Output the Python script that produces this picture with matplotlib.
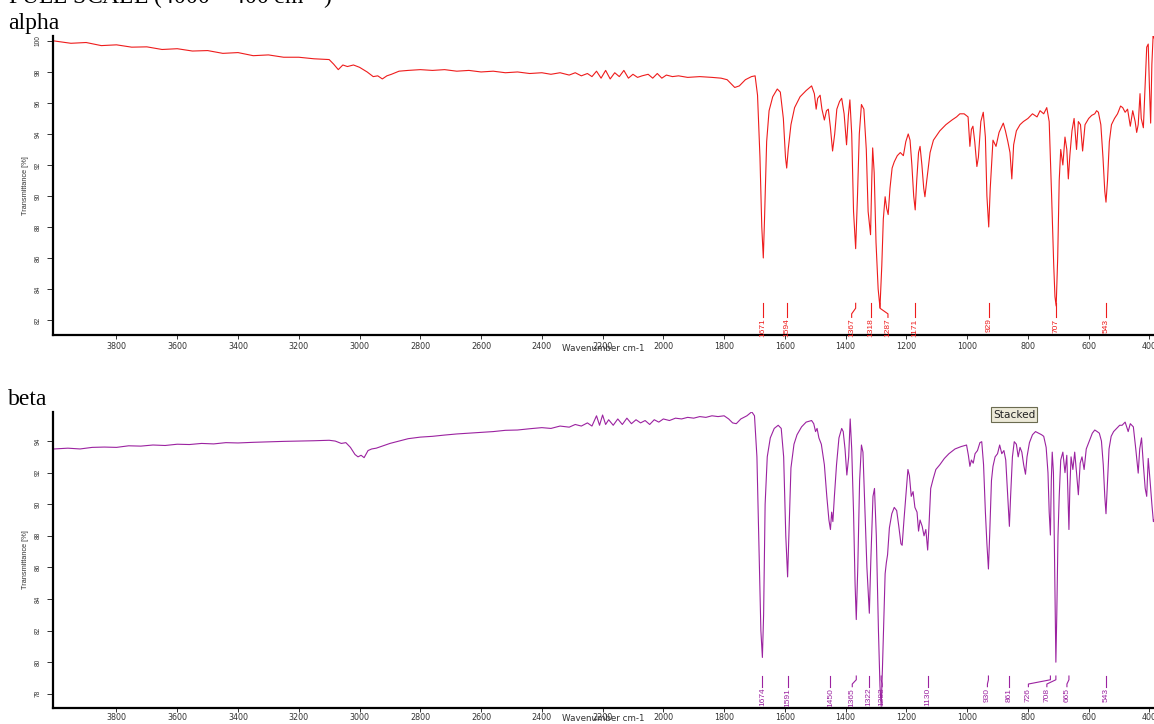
import matplotlib
matplotlib.use("Agg")
import matplotlib.pyplot as plt
from matplotlib.transforms import blended_transform_factory

# ---------------------------------------------------------------- data
x_ticks = [3800, 3600, 3400, 3200, 3000, 2800, 2600, 2400, 2200, 2000,
           1800, 1600, 1400, 1200, 1000, 800, 600, 400]
alpha_yticks = [82, 84, 86, 88, 90, 92, 94, 96, 98, 100]
beta_yticks = [78, 80, 82, 84, 86, 88, 90, 92, 94]

alpha_wn = [4005, 3950, 3900, 3850, 3800, 3750, 3700, 3650, 3600, 3550, 3500, 3450, 3400,
            3350, 3300, 3250, 3200, 3150, 3100, 3085, 3070, 3055, 3040, 3020, 3000, 2975,
            2955, 2940, 2925, 2910, 2895, 2870, 2840, 2800, 2760, 2720, 2680, 2640, 2600,
            2560, 2520, 2480, 2440, 2400, 2370, 2340, 2310, 2290, 2270, 2250, 2235, 2220,
            2205, 2190, 2175, 2160, 2145, 2130, 2115, 2100, 2085, 2070, 2050, 2035, 2020,
            2005, 1990, 1970, 1950, 1920, 1880, 1840, 1810, 1790, 1775, 1765, 1750, 1730,
            1710, 1698, 1690, 1682, 1676, 1671, 1667, 1660, 1652, 1640, 1625, 1615, 1605,
            1598, 1594, 1589, 1580, 1568, 1550, 1530, 1512, 1503, 1497, 1492, 1484, 1478,
            1470, 1463, 1457, 1450, 1443, 1436, 1429, 1420, 1413, 1405, 1397, 1391, 1386,
            1380, 1374, 1367, 1361, 1355, 1348, 1340, 1332, 1326, 1318, 1314, 1311, 1306,
            1300, 1293, 1287, 1281, 1276, 1270, 1265, 1260, 1254, 1247, 1240, 1230, 1220,
            1210, 1202, 1194, 1188, 1182, 1176, 1171, 1166, 1160, 1155, 1149, 1143, 1139,
            1133, 1122, 1111, 1090, 1070, 1050, 1035, 1024, 1010, 997, 991, 986, 981, 975,
            968, 963, 955, 947, 940, 935, 929, 924, 915, 905, 895, 881, 874, 866, 859, 853,
            847, 838, 826, 815, 800, 785, 770, 760, 748, 738, 730, 722, 715, 711, 707, 702,
            697, 692, 685, 678, 672, 667, 662, 655, 648, 640, 634, 627, 620, 612, 600, 590,
            580, 574, 568, 560, 553, 547, 543, 538, 532, 525, 515, 505, 495, 488, 480, 472,
            463, 455, 447, 442, 437, 431, 427, 420, 415, 409, 404, 400, 396, 392, 388, 385]
alpha_t = [100.0, 99.85, 99.9, 99.7, 99.75, 99.6, 99.62, 99.45, 99.5, 99.35, 99.38, 99.2, 99.25,
           99.05, 99.1, 98.95, 98.95, 98.85, 98.8, 98.5, 98.15, 98.45, 98.35, 98.45, 98.3, 98.0,
           97.7, 97.75, 97.55, 97.75, 97.85, 98.05, 98.1, 98.15, 98.1, 98.15, 98.05, 98.1, 98.0,
           98.05, 97.95, 98.0, 97.9, 97.95, 97.85, 97.95, 97.8, 97.95, 97.75, 97.9, 97.7, 98.05,
           97.6, 98.1, 97.55, 97.95, 97.7, 98.1, 97.6, 97.85, 97.65, 97.75, 97.85, 97.6, 97.9,
           97.6, 97.8, 97.7, 97.75, 97.65, 97.7, 97.65, 97.6, 97.5, 97.2, 97.0, 97.1, 97.5,
           97.7, 97.75, 96.5, 92.5, 88.0, 86.0, 88.5, 93.5, 95.5, 96.4, 96.9, 96.7, 95.0,
           92.5, 91.8, 93.0, 94.6, 95.7, 96.4, 96.8, 97.1, 96.6, 95.6, 96.3, 96.5, 95.6,
           94.9, 95.5, 95.6, 94.4, 92.9, 94.0, 95.6, 96.1, 96.3, 95.3, 93.3, 95.2, 96.2,
           94.0, 89.0, 86.6, 90.0, 94.0, 95.9, 95.6, 93.0, 89.0, 87.5, 91.0, 93.1, 91.5,
           87.0, 84.0, 82.8, 85.5, 88.5, 89.95, 89.2, 88.8, 90.5, 91.8, 92.2, 92.6, 92.8,
           92.6, 93.5, 94.0, 93.6, 92.0, 90.0, 89.1, 91.0, 92.8, 93.2, 92.0, 90.5, 89.95,
           91.0, 92.8, 93.6, 94.2, 94.6, 94.9, 95.1, 95.3, 95.3, 95.1, 93.2, 94.3, 94.5, 93.5,
           91.9, 92.5, 94.8, 95.4, 93.8, 90.0, 88.0, 90.5, 93.6, 93.2, 94.1, 94.7, 94.2, 93.5, 92.8, 91.1,
           93.3, 94.2, 94.6, 94.8, 95.0, 95.3, 95.1, 95.5, 95.3, 95.7, 94.8, 90.0, 85.5, 83.5, 82.9, 86.0,
           91.0, 93.0, 92.0, 93.8, 93.0, 91.1, 92.6, 94.2, 95.0, 93.0, 94.8, 94.6, 92.9, 94.6, 95.0, 95.2,
           95.3, 95.5, 95.4, 94.6, 92.5, 90.3, 89.6, 91.0, 93.5, 94.6, 95.0, 95.3, 95.8, 95.7, 95.4, 95.6,
           94.5, 95.5, 94.8, 94.1, 94.6, 96.6, 95.0, 94.4, 96.8, 99.6, 99.8, 97.0, 94.7, 98.5, 100.3, 100.2]

beta_wn = [4005, 3960, 3920, 3880, 3840, 3800, 3760, 3720, 3680, 3640, 3600, 3560, 3520, 3480,
           3440, 3400, 3350, 3300, 3250, 3200, 3150, 3100, 3080, 3060, 3045, 3030, 3015, 3005,
           2995, 2985, 2972, 2960, 2945, 2930, 2900, 2870, 2840, 2800, 2760, 2720, 2680, 2640,
           2600, 2560, 2520, 2480, 2440, 2400, 2370, 2340, 2310, 2290, 2270, 2250, 2235, 2220,
           2210, 2200, 2190, 2180, 2165, 2150, 2135, 2120, 2105, 2090, 2075, 2060, 2045, 2030,
           2015, 2000, 1980, 1960, 1940, 1920, 1900, 1880, 1860, 1840, 1820, 1800, 1785, 1772,
           1760, 1745, 1725, 1709, 1700, 1692, 1685, 1679, 1674, 1670, 1665, 1658, 1648, 1635,
           1622, 1612, 1604, 1597, 1591, 1586, 1580, 1570, 1560, 1545, 1530, 1512, 1505, 1499,
           1494, 1488, 1480, 1470, 1462, 1455, 1450, 1446, 1442, 1437, 1430, 1422, 1413, 1408,
           1402, 1396, 1390, 1385, 1380, 1374, 1369, 1365, 1360, 1354, 1348, 1343, 1337, 1330,
           1322, 1317, 1310, 1305, 1299, 1292, 1287, 1283, 1279, 1274, 1270, 1266, 1262, 1256,
           1248, 1240, 1232, 1225, 1218, 1214, 1208, 1200, 1195, 1190, 1184, 1178, 1172, 1165,
           1160, 1155, 1148, 1142, 1136, 1130, 1126, 1120, 1112, 1103, 1090, 1075, 1060, 1040,
           1020, 1002, 996, 991, 986, 980, 974, 966, 958, 952, 946, 940, 935, 930, 926, 920,
           915, 908, 900, 893, 886, 879, 873, 868, 864, 861, 857, 851, 845, 838, 832, 826,
           820, 814, 808, 803, 795, 785, 775, 765, 755, 748, 740, 734, 730, 726, 723, 720,
           716, 712, 708, 705, 701, 697, 692, 685, 678, 672, 668, 665, 662, 658, 652, 646,
           640, 634, 628, 622, 615, 608, 598, 588, 580, 572, 565, 558, 552, 547, 543, 539,
           533, 526, 518, 508, 498, 490, 480, 470, 463, 453, 445, 437, 432, 426, 420, 414,
           409, 404, 398, 392, 387, 385]
beta_t = [93.5, 93.55, 93.5, 93.6, 93.62, 93.6, 93.7, 93.68, 93.75, 93.72, 93.8, 93.78, 93.85, 93.82,
          93.9, 93.88, 93.92, 93.95, 93.98, 94.0, 94.02, 94.05, 94.0, 93.85, 93.9, 93.6, 93.15, 93.0,
          93.1, 92.95, 93.4, 93.5, 93.55, 93.65, 93.85, 94.0, 94.15, 94.25, 94.3, 94.38, 94.45, 94.5,
          94.55, 94.6, 94.68, 94.7, 94.78, 94.85, 94.8, 94.95, 94.88, 95.05, 94.95, 95.15, 94.95, 95.6,
          95.0, 95.65, 95.05, 95.35, 95.0, 95.4, 95.05, 95.45, 95.1, 95.35, 95.15, 95.3, 95.05, 95.35,
          95.2, 95.4, 95.3, 95.45, 95.4, 95.5, 95.45, 95.55, 95.5, 95.6, 95.55, 95.6, 95.4, 95.15,
          95.1, 95.4, 95.6, 95.85, 95.6, 93.0, 87.0, 82.0, 80.3, 83.0, 90.0, 93.0, 94.2, 94.8,
          95.0, 94.8, 93.0, 88.0, 85.4, 88.5, 92.3, 93.8, 94.4, 94.9, 95.2, 95.3, 95.1, 94.6,
          94.8, 94.2, 93.8, 92.5, 90.5, 89.0, 88.4, 89.5, 88.9, 90.5, 92.5, 94.2, 94.8, 94.6,
          93.5, 91.85, 93.0, 95.4, 93.5, 89.5, 85.0, 82.7, 86.0, 91.5, 93.75, 93.3, 90.0, 86.0,
          83.1, 86.5, 90.5, 91.0, 88.0, 82.0, 78.5, 77.2, 79.5, 83.0, 85.6, 86.3, 86.8, 88.5,
          89.4, 89.8, 89.6, 88.6, 87.5, 87.4, 89.0, 91.0, 92.2, 91.8, 90.5, 90.8, 89.8, 89.5,
          88.3, 89.0, 88.6, 88.0, 88.4, 87.1, 88.5, 91.0, 91.6, 92.2, 92.5, 92.9, 93.2, 93.5,
          93.65, 93.75, 93.1, 92.4, 92.8, 92.6, 93.2, 93.4, 93.9, 93.96, 92.5, 89.5, 87.5, 85.9, 88.0, 91.5,
          92.4, 93.0, 93.2, 93.75, 93.2, 93.4, 92.8, 91.0, 89.5, 88.6, 90.5, 93.0, 93.96, 93.8, 93.0, 93.6,
          93.3, 92.5, 91.9, 93.0, 93.9, 94.4, 94.6, 94.5, 94.4, 94.3, 93.6, 92.0, 89.5, 88.05, 91.5, 93.3,
          92.0, 86.0, 80.0, 83.0, 88.0, 90.5, 92.8, 93.3, 92.0, 93.1, 90.5, 88.4, 91.0, 93.0, 92.2, 93.3,
          92.0, 90.6, 92.6, 93.0, 92.2, 93.5, 94.0, 94.5, 94.7, 94.6, 94.5, 94.0, 92.5, 90.5, 89.4, 91.0,
          93.5, 94.3, 94.6, 94.8, 95.0, 95.0, 95.2, 94.6, 95.1, 94.9, 93.5, 91.97, 93.5, 94.2, 92.5, 91.0,
          90.5, 92.9, 91.5, 90.0, 88.9, 89.0]

alpha_peaks = [1671, 1594, 1367, 1318, 1287, 1171, 929, 707, 543]
beta_peaks = [1674, 1591, 1450, 1365, 1322, 1283, 1130, 930, 861, 726, 708, 665, 543]

# ---------------------------------------------------------------- layout
W, H = 1154, 724
XMAX, XMIN = 4009, 385
ALPHA_COLOR = '#ee1c1c'
BETA_COLOR = '#9b22a0'
AXIS_TEXT = '#333333'
SANS = ['Liberation Sans', 'DejaVu Sans']
WIDE = ['DejaVu Sans']
SERIF = ['Liberation Serif', 'DejaVu Serif']

plt.rcParams['mathtext.fontset'] = 'stix'
fig = plt.figure(figsize=(W / 100, H / 100), dpi=100)


def axes_px(left, top, right, bottom):
    return fig.add_axes([left / W, 1 - bottom / H, (right - left) / W, (bottom - top) / H])


def style_axis(ax, ylim, yticks, tick_pad, xlabel_offset):
    ax.set_xlim(XMAX, XMIN)
    ax.set_ylim(*ylim)
    for s in ('top', 'right'):
        ax.spines[s].set_visible(False)
    for s in ('left', 'bottom'):
        ax.spines[s].set_linewidth(1.6)
        ax.spines[s].set_color('black')
    ax.set_xticks(x_ticks)
    ax.set_xticklabels([str(t) for t in x_ticks], fontsize=5.8, color=AXIS_TEXT,
                       family=WIDE)
    ax.set_yticks(yticks)
    ax.set_yticklabels([str(t) for t in yticks], fontsize=4.8, color=AXIS_TEXT,
                       family=SANS, rotation=90, va='center')
    ax.tick_params(axis='x', length=3, width=0.7, pad=tick_pad, color=AXIS_TEXT)
    ax.tick_params(axis='y', length=4, width=0.7, pad=4, color=AXIS_TEXT)
    ax.set_ylabel('Transmittance [%]', fontsize=5.3, family=SANS, color=AXIS_TEXT,
                  labelpad=4)
    ax.annotate('Wavenumber cm-1', xy=(0.5, 0), xycoords='axes fraction',
                xytext=(0, -xlabel_offset), textcoords='offset points', ha='center',
                va='center', fontsize=6.3, color=AXIS_TEXT, family=WIDE)


def label_peaks(ax, peaks, shifts, color, y_top, y_bottom):
    trans = blended_transform_factory(ax.transData, ax.transAxes)
    px_per_wn = ax.get_position().width * W / (XMAX - XMIN)
    for wn in peaks:
        xt = wn - shifts.get(wn, 0) / px_per_wn
        y1 = y_top - 0.35 * (y_top - y_bottom)
        y2 = y_top - 0.75 * (y_top - y_bottom)
        ax.plot([wn, wn, xt, xt], [y_top, y1, y2, y_bottom], transform=trans,
                color=color, lw=0.8, clip_on=False)
        ax.text(xt, y_bottom - 0.004, str(wn), transform=trans, rotation=90,
                ha='center', va='top', fontsize=6, family=SANS, color=color)


ax1 = axes_px(53, 36, 1154, 335)
ax2 = axes_px(53, 412, 1154, 708)
style_axis(ax1, (81.03, 100.32), alpha_yticks, 2.2, 10.0)
style_axis(ax2, (77.1, 95.84), beta_yticks, 0.6, 7.6)

ax1.plot(alpha_wn, alpha_t, color=ALPHA_COLOR, lw=0.8)
ax2.plot(beta_wn, beta_t, color=BETA_COLOR, lw=0.8)

label_peaks(ax1, alpha_peaks, {1367: -4, 1287: 8}, ALPHA_COLOR, 0.106, 0.059)
label_peaks(ax2, beta_peaks, {1365: -4, 1283: 1, 726: -22, 708: -9, 665: -2, 930: -1},
            BETA_COLOR, 0.108, 0.072)

# headings
fig.text(8 / W, 1 - 4 / H, 'FULL SCALE (4000 \u2013 400 cm$^{-1}$)', va='baseline',
         ha='left', fontsize=17, family=SERIF)
fig.text(8 / W, 1 - 29 / H, 'alpha', va='baseline', ha='left', fontsize=17, family=SERIF)
fig.text(8 / W, 1 - 405 / H, 'beta', va='baseline', ha='left', fontsize=17, family=SERIF)

fig.text(1014 / W, 1 - 414.5 / H, 'Stacked', ha='center', va='center', fontsize=7.6,
         family=WIDE, color='#222222',
         bbox=dict(boxstyle='square,pad=0.2', fc='#ece9d8', ec='#6b6b50', lw=0.8))

fig.savefig('out.png', dpi=100)
